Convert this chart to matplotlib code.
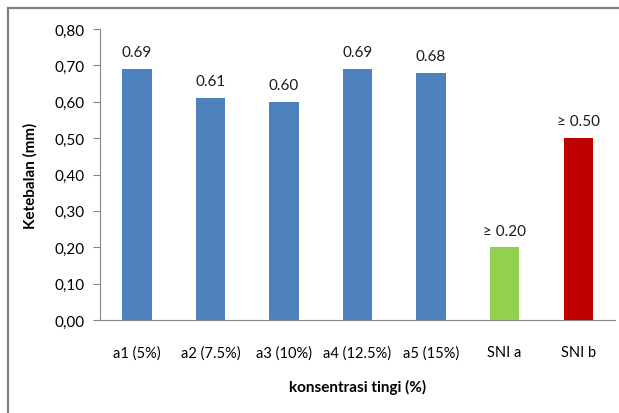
import matplotlib.pyplot as plt
from matplotlib.lines import Line2D

categories = ['a1 (5%)', 'a2 (7.5%)', 'a3 (10%)', 'a4 (12.5%)', 'a5 (15%)', 'SNI a', 'SNI b']
values = [0.69, 0.61, 0.60, 0.69, 0.68, 0.20, 0.50]
bar_labels = ['0.69', '0.61', '0.60', '0.69', '0.68', '\u2265 0.20', '\u2265 0.50']
colors = ['#4F81BD'] * 5 + ['#92D050', '#C00000']
yticks = [0.0, 0.1, 0.2, 0.3, 0.4, 0.5, 0.6, 0.7, 0.8]

plt.rcParams['font.family'] = ['Lato', 'DejaVu Sans']

fig = plt.figure(figsize=(6.19, 4.14), dpi=100)
ax = fig.add_axes([100 / 619, 93 / 414, 515 / 619, 291 / 414])

x = range(len(categories))
bars = ax.bar(x, values, width=0.4, color=colors)

for b, lab in zip(bars, bar_labels):
    ax.annotate(lab, (b.get_x() + b.get_width() / 2, b.get_height()),
                xytext=(0, 7), textcoords='offset points',
                ha='center', va='bottom', fontsize=11, color='#1a1a1a')

ax.set_xlim(-0.5, len(categories) - 0.5)
ax.set_ylim(0, 0.8)
ax.set_yticks(yticks)
ax.set_yticklabels([('%.2f' % v).replace('.', ',') for v in yticks], fontsize=11)
ax.set_xticks(list(x))
ax.set_xticklabels(categories, fontsize=10.5)
ax.tick_params(axis='x', length=0, pad=18)
ax.tick_params(axis='y', length=5, color='#868686', direction='out', pad=6)

for s in ['top', 'right']:
    ax.spines[s].set_visible(False)
ax.spines['left'].set_color('#868686')
ax.spines['bottom'].set_color('#868686')

ax.set_ylabel('Ketebalan (mm)', fontsize=11, fontweight='bold', labelpad=12)
ax.set_xlabel('konsentrasi tingi (%)', fontsize=11, fontweight='bold', labelpad=14)

# outer chart border (cropped on right/bottom)
fig.add_artist(Line2D([8 / 619, 1.0], [1 - 9 / 414, 1 - 9 / 414], color='#808080', lw=1.6,
                      transform=fig.transFigure))
fig.add_artist(Line2D([8 / 619, 8 / 619], [0.0, 1 - 9 / 414], color='#808080', lw=1.6,
                      transform=fig.transFigure))

fig.savefig('out.png', dpi=100)
